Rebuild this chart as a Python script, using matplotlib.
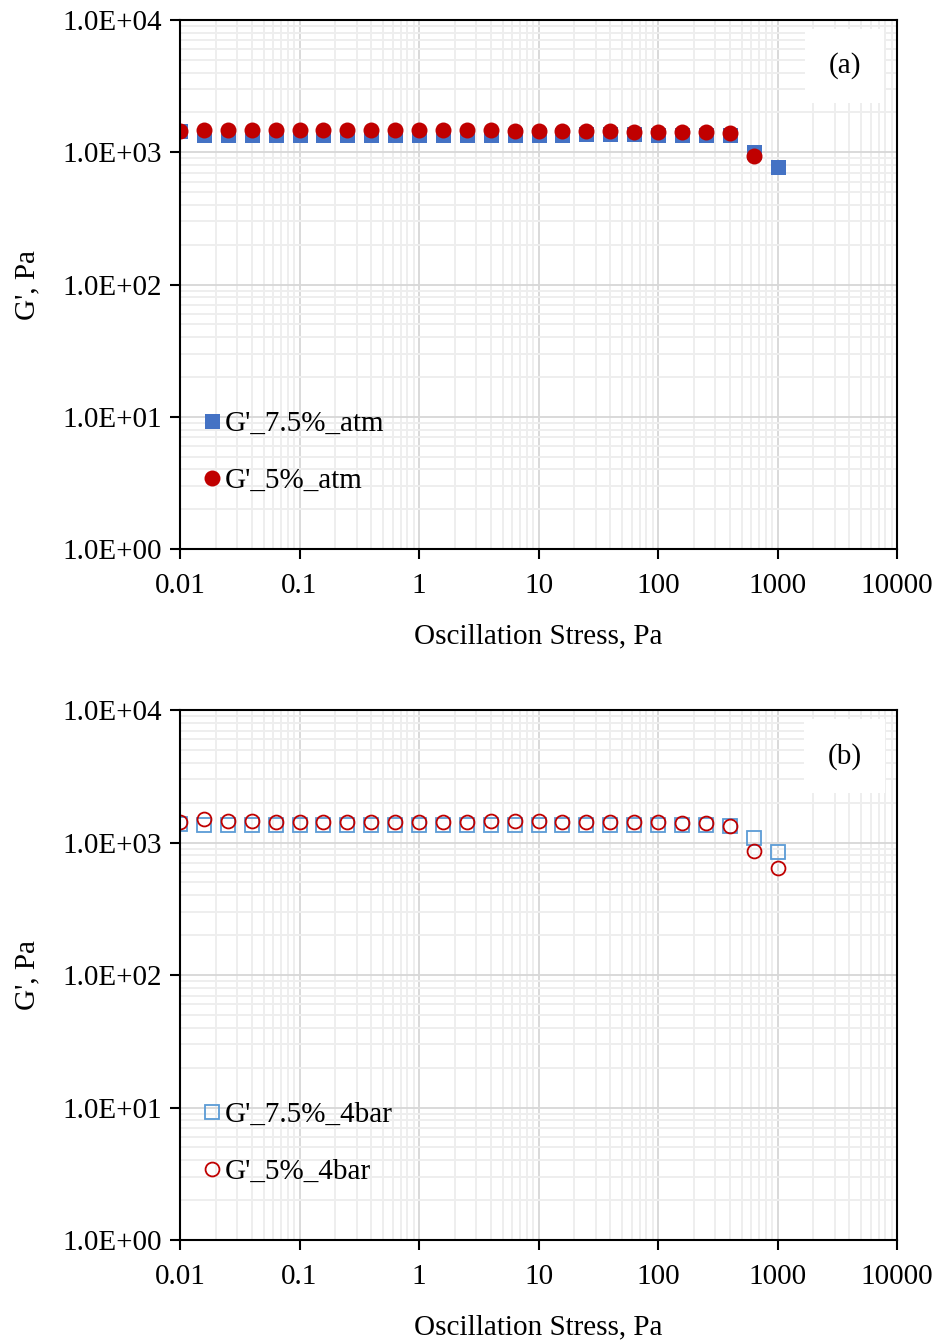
import matplotlib
matplotlib.use('Agg')
import matplotlib.pyplot as plt
from matplotlib.ticker import LogLocator, FuncFormatter, FixedLocator

plt.rcParams['font.family'] = ['Liberation Serif', 'DejaVu Serif']
plt.rcParams['font.size'] = 21

# oscillation stress sweep (Pa)
stress = [0.01, 0.0158, 0.0251, 0.0398, 0.0631, 0.1, 0.158, 0.251, 0.398, 0.631,
          1, 1.58, 2.51, 3.98, 6.31, 10, 15.8, 25.1, 39.8, 63.1,
          100, 158, 251, 398, 631, 1000]

# storage modulus G' (Pa), atmospheric pressure
g_75_atm = [1450, 1360, 1355, 1350, 1350, 1350, 1350, 1350, 1350, 1350,
            1350, 1350, 1350, 1355, 1355, 1355, 1360, 1365, 1370, 1370,
            1360, 1355, 1345, 1340, 1005, 770]
g_5_atm = [1460, 1470, 1480, 1465, 1465, 1465, 1465, 1465, 1465, 1465,
           1465, 1465, 1465, 1465, 1460, 1455, 1450, 1445, 1440, 1435,
           1430, 1420, 1415, 1410, 930]

# storage modulus G' (Pa), 4 bar
g_75_4bar = [1380, 1355, 1350, 1345, 1345, 1345, 1345, 1345, 1345, 1345,
             1345, 1350, 1350, 1350, 1350, 1350, 1355, 1355, 1355, 1355,
             1355, 1350, 1345, 1340, 1090, 850]
g_5_4bar = [1435, 1495, 1450, 1450, 1440, 1435, 1435, 1435, 1435, 1440,
            1440, 1440, 1440, 1445, 1445, 1445, 1440, 1440, 1435, 1430,
            1425, 1415, 1410, 1335, 865, 640]

x_ticks = [0.01, 0.1, 1, 10, 100, 1000, 10000]
x_labels = ['0.01', '0.1', '1', '10', '100', '1000', '10000']
y_ticks = [1, 10, 100, 1000, 10000]

BLUE = '#4472C4'
LIGHT_BLUE = '#5B9BD5'
RED = '#C00000'

fig = plt.figure(figsize=(9.39, 13.42), dpi=100)
ax_a = fig.add_axes([0.1917, 0.5909, 0.7636, 0.3942])
ax_b = fig.add_axes([0.1917, 0.0760, 0.7636, 0.3949])


def style_axis(ax, tag):
    ax.set_xscale('log')
    ax.set_yscale('log')
    ax.set_xlim(0.01, 10000)
    ax.set_ylim(1, 10000)
    ax.xaxis.set_major_locator(FixedLocator(x_ticks))
    ax.set_xticklabels(x_labels)
    ax.yaxis.set_major_locator(FixedLocator(y_ticks))
    ax.yaxis.set_major_formatter(FuncFormatter(lambda v, p: '{:.1E}'.format(v)))
    ax.xaxis.set_minor_locator(LogLocator(base=10, subs=range(2, 10), numticks=20))
    ax.yaxis.set_minor_locator(LogLocator(base=10, subs=range(2, 10), numticks=20))
    ax.tick_params(which='major', direction='out', length=7, width=1.5)
    ax.tick_params(axis='x', which='major', pad=10)
    ax.tick_params(axis='y', which='major', pad=6)
    ax.tick_params(which='minor', length=0)
    ax.grid(which='minor', color='#eeeeee', linewidth=1.4)
    ax.grid(which='major', color='#d9d9d9', linewidth=1.4)
    ax.set_axisbelow(True)
    for sp in ax.spines.values():
        sp.set_linewidth(1.5)
        sp.set_color('black')
    ax.set_xlabel('Oscillation Stress, Pa', labelpad=18)
    ax.set_ylabel("G', Pa", labelpad=16)
    ax.text(0.927, 0.913, tag, transform=ax.transAxes, ha='center', va='center',
            bbox=dict(boxstyle='square,pad=0.8', facecolor='white', edgecolor='none'))


def add_legend(ax):
    ax.legend(loc='lower left', bbox_to_anchor=(0.0, 0.06), frameon=False,
              handlelength=0.6, handletextpad=0.15, labelspacing=1.05, borderpad=0.3)


style_axis(ax_a, '(a)')
ax_a.plot(stress, g_75_atm, linestyle='none', marker='s', markersize=10.8,
          color=BLUE, markeredgewidth=0, label="G'_7.5%_atm")
ax_a.plot(stress[:len(g_5_atm)], g_5_atm, linestyle='none', marker='o', markersize=11.5,
          color=RED, markeredgewidth=0, label="G'_5%_atm")
add_legend(ax_a)

style_axis(ax_b, '(b)')
ax_b.plot(stress, g_75_4bar, linestyle='none', marker='s', markersize=9.5,
          markerfacecolor='none', markeredgecolor=LIGHT_BLUE, markeredgewidth=1.3,
          label="G'_7.5%_4bar")
ax_b.plot(stress, g_5_4bar, linestyle='none', marker='o', markersize=10,
          markerfacecolor='none', markeredgecolor=RED, markeredgewidth=1.3,
          label="G'_5%_4bar")
add_legend(ax_b)

fig.savefig('out.png', dpi=100)
